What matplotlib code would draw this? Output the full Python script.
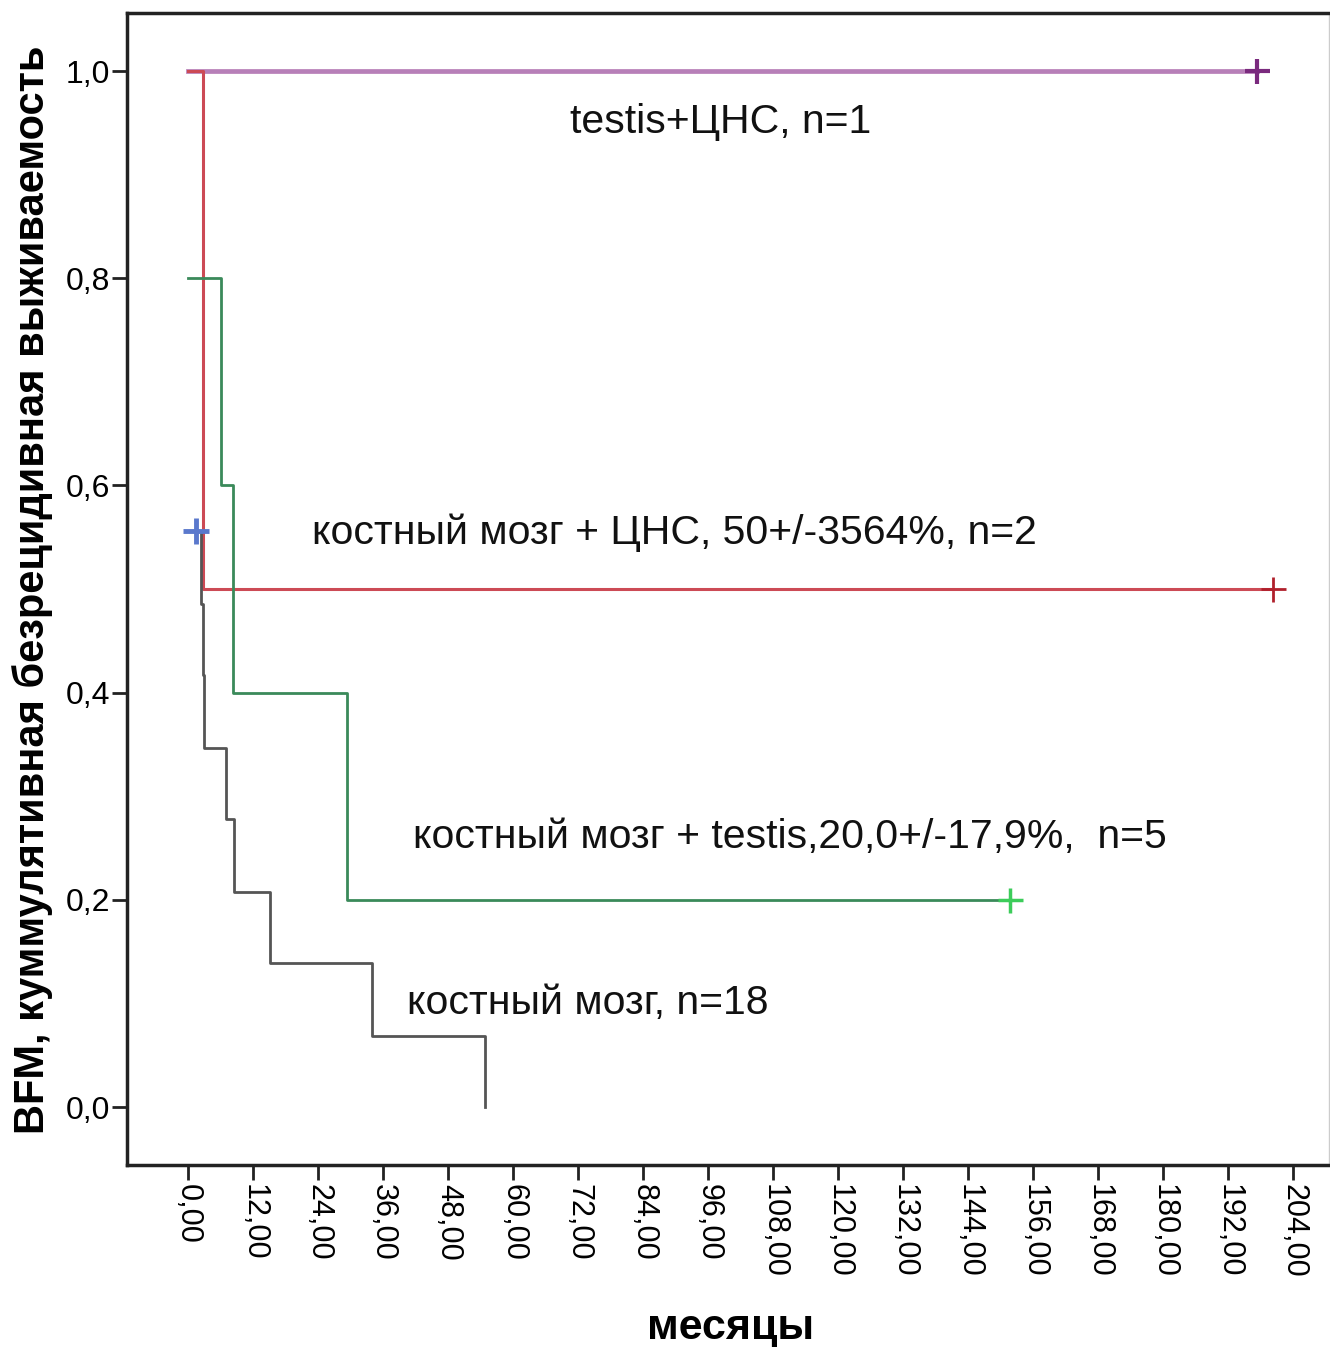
"""Kaplan-Meier style relapse-free survival curves (BFM), step plot."""

import matplotlib

matplotlib.use("Agg")
import matplotlib.pyplot as plt

plt.rcParams["font.family"] = ["Liberation Sans", "DejaVu Sans"]

# --- data ---------------------------------------------------------------
# bone marrow, n=18
bm_t = [1.5, 2.4, 2.8, 3.0, 7.0, 8.5, 15.1, 34.0, 54.8]
bm_s = [0.556, 0.486, 0.417, 0.347, 0.278, 0.208, 0.139, 0.069, 0.0]
bm_cens_t = [1.5]
bm_cens_s = [0.556]

# bone marrow + testis, n=5
bt_t = [0.0, 6.1, 8.3, 29.4, 151.7]
bt_s = [0.8, 0.6, 0.4, 0.2, 0.2]
bt_cens_t = [151.7]
bt_cens_s = [0.2]

# bone marrow + CNS, n=2
bc_t = [0.0, 2.8, 200.3]
bc_s = [1.0, 0.5, 0.5]
bc_cens_t = [200.3]
bc_cens_s = [0.5]

# testis + CNS, n=1
tc_t = [0.0, 197.3]
tc_s = [1.0, 1.0]
tc_cens_t = [197.3]
tc_cens_s = [1.0]

x_ticks = list(range(0, 205, 12))
x_labels = [f"{v},00" for v in x_ticks]
y_ticks = [0.0, 0.2, 0.4, 0.6, 0.8, 1.0]
y_labels = ["0,0", "0,2", "0,4", "0,6", "0,8", "1,0"]

labels = [
    ("testis+ЦНС, n=1", 70.5, 0.940),
    ("костный мозг + ЦНС, 50+/-3564%, n=2", 22.9, 0.543),
    ("костный мозг + testis,20,0+/-17,9%,  n=5", 41.5, 0.250),
    ("костный мозг, n=18", 40.4, 0.090),
]

fig = plt.figure(figsize=(13.30, 13.47), dpi=100)
ax = fig.add_axes([0.0955, 0.1351, 0.9038, 0.8552])

ax.step(tc_t, tc_s, where="post", color="#b77fb8", lw=3.4, zorder=2)
ax.step(bc_t, bc_s, where="post", color="#cc4a55", lw=2.2, zorder=3)
ax.step(bt_t, bt_s, where="post", color="#3a8a5a", lw=2.0, zorder=3)
ax.step(bm_t, bm_s, where="post", color="#555555", lw=2.0, zorder=3)

ax.plot(tc_cens_t, tc_cens_s, "+", color="#7a2a7e", ms=18, mew=3, zorder=4)
ax.plot(bc_cens_t, bc_cens_s, "+", color="#b0202c", ms=18, mew=2, zorder=4)
ax.plot(bt_cens_t, bt_cens_s, "+", color="#3ccc5a", ms=18, mew=2.5, zorder=4)
ax.plot(bm_cens_t, bm_cens_s, "+", color="#5a78cc", ms=19, mew=3.5, zorder=4)

for txt, x, y in labels:
    ax.text(x, y, txt, fontsize=29.5, color="#111111", va="baseline",
            ha="left")

ax.set_xlim(-11.3, 210.6)
ax.set_ylim(-0.056, 1.056)
ax.set_xticks(x_ticks)
ax.set_xticklabels(x_labels, rotation=-90, fontsize=22)
ax.set_yticks(y_ticks)
ax.set_yticklabels(y_labels, fontsize=23)
ax.tick_params(axis="both", direction="out", length=11, width=2, pad=1,
               color="#222222")
ax.tick_params(axis="x", pad=3)

for side in ("left", "bottom", "top"):
    ax.spines[side].set_linewidth(2.5)
    ax.spines[side].set_color("#222222")
ax.spines["right"].set_linewidth(1)
ax.spines["right"].set_color("#cccccc")

fig.text(731 / 1330, 1 - 1328 / 1347, "месяцы", fontsize=31,
         fontweight="bold", ha="center", va="center")
fig.text(33 / 1330, 1 - 590 / 1347,
         "BFM, куммулятивная безрецидивная выживаемость", fontsize=30,
         fontweight="bold", ha="center", va="center", rotation=90)

fig.savefig("out.png", dpi=100)
